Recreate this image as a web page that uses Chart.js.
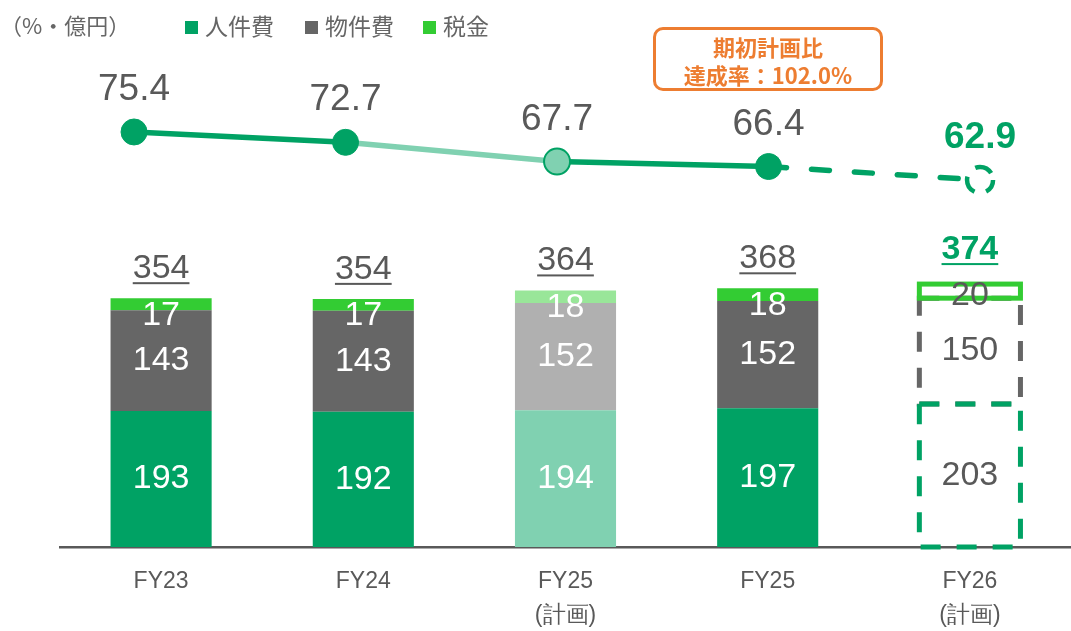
<!DOCTYPE html>
<html>
<head>
<meta charset="utf-8">
<script src="https://cdn.jsdelivr.net/npm/chart.js@4.4.1/dist/chart.umd.min.js"></script>
<style>
    body { margin: 0; background: #fff; }
    #wrap { position: relative; width: 1071px; height: 631px; font-family: "Noto Sans CJK JP", sans-serif; }
    #unit { position: absolute; left: 0; top: 8px; font-size: 22px; color: #666; }
    .leg { position: absolute; top: 8px; font-size: 23px; color: #666; }
    .leg i { display: inline-block; width: 13px; height: 13px; margin-right: 7px; vertical-align: 1px; }
    #note {
        position: absolute; left: 653px; top: 27px; width: 230px; height: 64px;
        box-sizing: border-box; border: 3px solid #ED7D31; border-radius: 10px; background: #fff;
        color: #ED7D31; font-weight: bold; font-size: 22px; line-height: 28px; text-align: center; padding-top: 2px;
    }
</style>
</head>
<body>
<div id="wrap">
    <canvas id="chart" width="1071" height="631"></canvas>
    <div id="unit">（%・億円）</div>
    <div class="leg" style="left:185px"><i style="background:#00A264"></i>人件費</div>
    <div class="leg" style="left:305px"><i style="background:#666666"></i>物件費</div>
    <div class="leg" style="left:423px"><i style="background:#33CC33"></i>税金</div>
    <div id="note">期初計画比<br>達成率：102.0%</div>
</div>
<script>
const categories = [['FY23'], ['FY24'], ['FY25', '(計画)'], ['FY25'], ['FY26', '(計画)']];
const jinken = [193, 192, 194, 197, 203];
const bukken = [143, 143, 152, 152, 150];
const zeikin = [17, 17, 18, 18, 20];
const totals = [354, 354, 364, 368, 374];
const ratio = [75.4, 72.7, 67.7, 66.4, 62.9];

const green = '#00A264', lightGreen = '#80D1B1';
const textGray = '#595959';
const numFont = '"Liberation Sans", Arial, sans-serif';

// plan columns get pale colours, the FY26 column is drawn as dashed outlines
function cols(normal, plan) {
    return [normal, normal, plan, normal, 'rgba(0,0,0,0)'];
}

function dashedBox(ctx, el, color, dash) {
    const l = el.x - el.width / 2, r = el.x + el.width / 2;
    ctx.save();
    ctx.strokeStyle = color;
    ctx.lineWidth = 5;
    ctx.setLineDash(dash);
    ctx.strokeRect(l, el.y, r - l, el.base - el.y);
    ctx.restore();
}

const labelPlugin = {
    id: 'labels',
    afterDatasetsDraw(chart) {
        const ctx = chart.ctx;
        const m0 = chart.getDatasetMeta(0).data;
        const m1 = chart.getDatasetMeta(1).data;
        const m2 = chart.getDatasetMeta(2).data;
        const line = chart.getDatasetMeta(3).data;

        // FY26 plan outlines
        dashedBox(ctx, m1[4], '#666666', [20, 16]);
        dashedBox(ctx, m0[4], green, [20, 16]);
        dashedBox(ctx, m2[4], '#33CC33', []);

        // FY26 dashed point
        const p = line[4];
        ctx.save();
        ctx.beginPath();
        ctx.arc(p.x, p.y, 13, 0, Math.PI * 2);
        ctx.fillStyle = '#fff';
        ctx.fill();
        ctx.strokeStyle = green;
        ctx.lineWidth = 4.5;
        ctx.setLineDash([18, 12]);
        ctx.lineDashOffset = 4;
        ctx.stroke();
        ctx.restore();

        ctx.save();
        ctx.textAlign = 'center';
        ctx.textBaseline = 'middle';
        ctx.font = '34px ' + numFont;
        [m0, m1, m2].forEach((meta, d) => {
            const vals = [jinken, bukken, zeikin][d];
            meta.forEach((el, i) => {
                ctx.fillStyle = i < 4 ? '#fff' : textGray;
                let y = (el.y + el.base) / 2;
                if (d === 2) y += i < 4 ? 11 : 4;
                ctx.fillText(vals[i], el.x, y);
            });
        });

        // totals, underlined
        ctx.textBaseline = 'alphabetic';
        m2.forEach((el, i) => {
            const plan = i === 4;
            ctx.font = (plan ? 'bold ' : '') + '34px ' + numFont;
            ctx.fillStyle = plan ? green : textGray;
            const base = el.y - (plan ? 25 : 20);
            ctx.fillText(totals[i], el.x, base);
            const w = ctx.measureText(String(totals[i])).width;
            ctx.fillRect(el.x - w / 2, base + 4, w, 2);
        });

        // ratio labels
        line.forEach((el, i) => {
            const plan = i === 4;
            ctx.font = (plan ? 'bold ' : '') + '37px ' + numFont;
            ctx.fillStyle = plan ? green : textGray;
            ctx.fillText(ratio[i].toFixed(1), el.x, el.y - 32);
        });
        ctx.restore();
    }
};

new Chart(document.getElementById('chart'), {
    type: 'bar',
    data: {
        labels: categories,
        datasets: [
            { label: '人件費', data: jinken, backgroundColor: cols(green, lightGreen), order: 2 },
            { label: '物件費', data: bukken, backgroundColor: cols('#666666', '#B0B0B0'), order: 2 },
            { label: '税金', data: zeikin, backgroundColor: cols('#33CC33', '#99E699'), order: 2 },
            {
                type: 'line',
                label: 'ratio',
                data: ratio.map((v, i) => ({ x: i, y: v })),
                xAxisID: 'x2',
                yAxisID: 'y1',
                borderColor: green,
                borderWidth: 5.5,
                borderCapStyle: 'round',
                segment: {
                    borderColor: c => c.p0DataIndex === 1 ? lightGreen : green,
                    borderDash: c => c.p0DataIndex === 3 ? [18, 25] : undefined
                },
                pointRadius: [13, 13, 13, 13, 0],
                pointBackgroundColor: [green, green, lightGreen, green, green],
                pointBorderColor: green,
                pointBorderWidth: [1, 1, 2, 1, 0],
                order: 1
            }
        ]
    },
    options: {
        animation: false,
        responsive: false,
        events: [],
        layout: { autoPadding: false, padding: { top: 12, left: 60, right: 0, bottom: 0 } },
        plugins: { legend: { display: false }, tooltip: { enabled: false } },
        datasets: { bar: { barPercentage: 0.5, categoryPercentage: 1, grouped: false } },
        scales: {
            x: {
                stacked: true,
                grid: { display: false, drawTicks: false },
                border: { display: true, color: '#595959', width: 2.5 },
                ticks: {
                    color: textGray,
                    padding: 17,
                    font: { family: numFont, size: 23, lineHeight: 1.5 }
                },
                afterFit: s => { s.height = 84; }
            },
            y: { stacked: true, display: false, min: 0, max: 759 },
            x2: { type: 'linear', display: false, offset: false, min: -0.35, max: 4.43 },
            y1: { display: false, min: -32.7, max: 106.65 }
        }
    },
    plugins: [labelPlugin]
});
</script>
</body>
</html>
